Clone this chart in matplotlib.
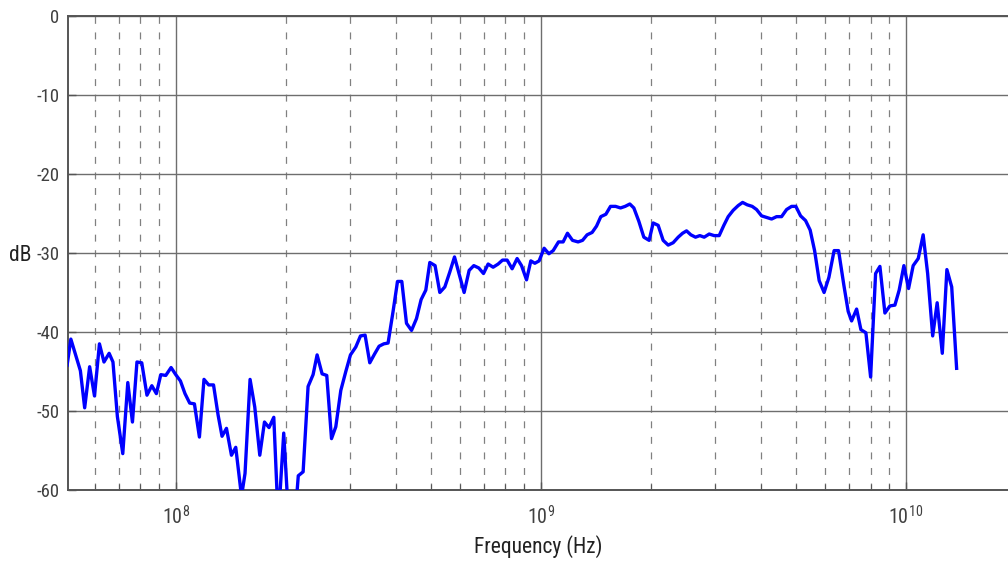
import matplotlib

matplotlib.use("Agg")

import matplotlib.pyplot as plt
from matplotlib.ticker import FixedLocator, LogLocator, NullFormatter

freq_mhz = [
    50.4, 51.6, 54.8, 56.3, 58.1, 59.9, 61.8, 63.6, 65.7, 67.3,
    69.2, 71.6, 73.9, 76.1, 78.3, 80.7, 83.4, 86.0, 88.5, 91.0,
    93.9, 97.1, 100.0, 103.0, 106.0, 109.2, 112.5, 116.1, 119.5, 123.1,
    126.9, 130.6, 133.9, 137.7, 142.1, 146.0, 151.4, 154.8, 159.8, 164.6,
    169.9, 175.0, 180.1, 185.6, 190.9, 197.6, 204.0, 210.1, 216.6, 223.3,
    230.4, 237.8, 243.9, 251.7, 259.2, 267.1, 274.4, 283.2, 292.3, 301.0,
    311.3, 320.6, 330.1, 340.0, 350.3, 360.6, 371.5, 381.6, 393.8, 405.0,
    416.1, 428.6, 442.4, 456.5, 470.0, 484.1, 496.5, 513.3, 528.8, 545.8,
    563.3, 580.2, 600.0, 616.5, 636.3, 655.3, 676.3, 696.6, 717.2, 740.2,
    763.9, 785.4, 808.5, 834.5, 861.2, 885.4, 913.8, 938.9, 963.0, 989.2,
    1021, 1052, 1081, 1118, 1151, 1183, 1221, 1265, 1301, 1339,
    1382, 1421, 1460, 1507, 1552, 1602, 1653, 1702, 1753, 1798,
    1856, 1915, 1980, 2031, 2096, 2163, 2233, 2304, 2378, 2445,
    2507, 2576, 2653, 2726, 2802, 2892, 2984, 3080, 3172, 3260,
    3364, 3472, 3570, 3675, 3793, 3899, 4024, 4153, 4287, 4424,
    4565, 4712, 4863, 4995, 5146, 5311, 5467, 5622, 5787, 5969,
    6152, 6358, 6540, 6763, 6949, 7100, 7328, 7529, 7770, 8005,
    8260, 8488, 8760, 9041, 9330, 9585, 9874, 10170, 10470, 10810,
    11150, 11470, 11840, 12180, 12580, 12950, 13350, 13770,
]
level_db = [
    -44.2, -40.9, -44.9, -49.6, -44.4, -48.1, -41.5, -43.8, -42.7, -43.8,
    -50.7, -55.4, -46.4, -51.4, -43.8, -43.9, -48.0, -46.8, -47.8, -45.4,
    -45.5, -44.5, -45.4, -46.2, -47.8, -49.0, -49.1, -53.3, -46.0, -46.7,
    -46.7, -50.5, -53.2, -52.2, -55.6, -54.6, -60.8, -57.9, -46.0, -49.5,
    -55.6, -51.4, -52.1, -50.8, -64.0, -52.8, -64.0, -66.0, -58.2, -57.7,
    -46.9, -45.4, -42.9, -45.3, -45.5, -53.5, -52.0, -47.4, -45.0, -42.9,
    -41.9, -40.5, -40.4, -43.9, -42.8, -41.8, -41.5, -41.4, -37.4, -33.6,
    -33.6, -38.9, -39.8, -38.3, -35.9, -34.7, -31.2, -31.6, -35.0, -34.3,
    -32.4, -30.5, -33.0, -35.0, -32.2, -31.6, -31.9, -32.6, -31.4, -31.8,
    -31.4, -30.9, -30.9, -32.0, -30.7, -31.6, -33.4, -31.0, -31.3, -31.0,
    -29.4, -30.1, -29.7, -28.6, -28.6, -27.5, -28.4, -28.6, -28.4, -27.7,
    -27.4, -26.6, -25.4, -25.1, -24.1, -24.1, -24.3, -24.1, -23.8, -24.3,
    -26.0, -28.0, -28.4, -26.2, -26.5, -28.4, -29.0, -28.7, -28.0, -27.5,
    -27.2, -27.7, -28.0, -27.8, -28.0, -27.6, -27.8, -27.8, -26.5, -25.4,
    -24.6, -24.0, -23.6, -23.9, -24.1, -24.5, -25.3, -25.5, -25.7, -25.4,
    -25.4, -24.5, -24.1, -24.1, -25.3, -25.9, -27.1, -29.7, -33.5, -35.0,
    -33.1, -29.7, -29.7, -34.1, -37.4, -38.6, -37.1, -39.7, -40.1, -45.7,
    -32.6, -31.7, -37.6, -36.7, -36.6, -34.7, -31.6, -34.5, -31.6, -30.7,
    -27.7, -32.6, -40.5, -36.3, -42.7, -32.1, -34.3, -44.6,
]
y_ticks = [0, -10, -20, -30, -40, -50, -60]
y_tick_labels = ["0", "-10", "-20", "-30", "-40", "-50", "-60"]

plt.rcParams["font.family"] = ["Roboto Condensed", "DejaVu Sans"]
plt.rcParams["mathtext.fontset"] = "custom"
plt.rcParams["mathtext.rm"] = "Roboto Condensed"
plt.rcParams["mathtext.it"] = "Roboto Condensed"
plt.rcParams["lines.scale_dashes"] = False

text_color = "#404040"

figure = plt.figure(figsize=(10.08, 5.63), dpi=100)
axis = figure.add_axes([0.0672, 0.1297, 0.9328, 0.8419])

freq_hz = [f * 1e6 for f in freq_mhz]
axis.plot(freq_hz, level_db, color="#0000ff", linewidth=2.4, zorder=3)

axis.set_xscale("log")
axis.set_xlim(5.06e7, 1.904e10)
axis.set_ylim(-60, 0)

axis.xaxis.set_major_locator(LogLocator(base=10, numticks=10))
axis.xaxis.set_minor_locator(LogLocator(base=10, subs=range(2, 10), numticks=20))
axis.xaxis.set_minor_formatter(NullFormatter())
axis.yaxis.set_major_locator(FixedLocator(y_ticks))
axis.set_yticklabels(y_tick_labels)

axis.grid(True, which="major", axis="both", color="#6e6e6e", linewidth=1.0, linestyle="-")
axis.grid(True, which="minor", axis="x", color="#808080", linewidth=0.9,
          linestyle=(0, (5, 6.2)))

for name, spine in axis.spines.items():
    spine.set_color("#555555")
    spine.set_linewidth(1.4)
axis.spines["right"].set_visible(False)

axis.tick_params(which="both", direction="in", colors="#555555",
                 labelcolor=text_color, top=False, right=False)
axis.tick_params(which="major", length=6, width=1.0)
axis.tick_params(which="minor", length=4, width=0.8)
axis.tick_params(axis="y", pad=6, labelsize=13.5)
axis.tick_params(axis="x", pad=11, labelsize=14.5)

axis.set_xlabel("Frequency (Hz)", fontsize=15.5, color="#222222", labelpad=5)
axis.set_ylabel("dB", fontsize=15.5, color="#222222", rotation=0,
                ha="center", va="center")
axis.yaxis.set_label_coords(-0.0507, 0.4937)

figure.savefig("out.png", dpi=100)
plt.close(figure)
